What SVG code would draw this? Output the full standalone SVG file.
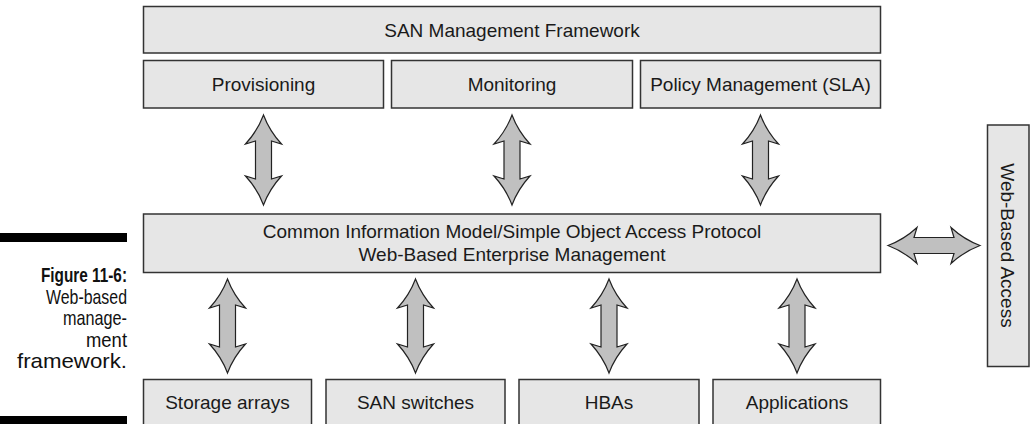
<svg xmlns="http://www.w3.org/2000/svg" xmlns:xlink="http://www.w3.org/1999/xlink" width="1030" height="424" viewBox="0 0 1030 424">
<style>
.box{fill:#e6e6e6;stroke:#333;stroke-width:1.5}
.lbl{font-family:"Liberation Sans",Arial,sans-serif;font-size:19px;fill:#1a1a1a;text-anchor:middle}
.arr{fill:#c0c0c0;stroke:#222;stroke-width:1.2;stroke-linejoin:miter}
.cap{font-family:"Liberation Sans",Arial,sans-serif;font-size:21px;fill:#111;text-anchor:end}
</style>
<defs>
<path id="v90" d="M0,0 Q-6,16 -18,29 L-8,26 L-8,64 L-18,61 Q-6,74 0,90 Q6,74 18,61 L8,64 L8,26 L18,29 Q6,16 0,0 Z"/>
<path id="v94" d="M0,0 Q-6,16 -18,29 L-8,26 L-8,68 L-18,65 Q-6,78 0,94 Q6,78 18,65 L8,68 L8,26 L18,29 Q6,16 0,0 Z"/>
<path id="v92" d="M0,0 Q-6,16 -18,29 L-8,26 L-8,66 L-18,63 Q-6,76 0,92 Q6,76 18,63 L8,66 L8,26 L18,29 Q6,16 0,0 Z"/>
</defs>
<rect width="1030" height="424" fill="#fff"/>

<g id="caption">
<rect x="0" y="233" width="127" height="9" fill="#000"/>
<rect x="0" y="416" width="127" height="10" fill="#000"/>
<text class="cap" x="127" y="282" font-weight="bold" textLength="86" lengthAdjust="spacingAndGlyphs">Figure 11-6:</text>
<text class="cap" x="127" y="303.5" textLength="81" lengthAdjust="spacingAndGlyphs">Web-based</text>
<text class="cap" x="127" y="325" textLength="64" lengthAdjust="spacingAndGlyphs">manage-</text>
<text class="cap" x="127" y="346.5" textLength="41" lengthAdjust="spacingAndGlyphs">ment</text>
<text class="cap" x="127" y="368" textLength="110" lengthAdjust="spacingAndGlyphs">framework.</text>
</g>

<g id="san-framework">
<rect class="box" x="143.5" y="6.5" width="737" height="46.5"/>
<text class="lbl" x="512" y="37">SAN Management Framework</text>
</g>
<g id="provisioning">
<rect class="box" x="143.5" y="60.5" width="240" height="47.5"/>
<text class="lbl" x="263.5" y="91">Provisioning</text>
</g>
<g id="monitoring">
<rect class="box" x="391.5" y="60.5" width="241" height="47.5"/>
<text class="lbl" x="512" y="91">Monitoring</text>
</g>
<g id="policy">
<rect class="box" x="640.5" y="60.5" width="240" height="47.5"/>
<text class="lbl" x="760.5" y="91">Policy Management (SLA)</text>
</g>
<g id="cim-wbem">
<rect class="box" x="143.5" y="214" width="737" height="58.5"/>
<text class="lbl" x="512" y="238">Common Information Model/Simple Object Access Protocol</text>
<text class="lbl" x="512" y="261">Web-Based Enterprise Management</text>
</g>
<g id="storage-arrays">
<rect class="box" x="143.5" y="379.5" width="168" height="52"/>
<text class="lbl" x="227.5" y="409">Storage arrays</text>
</g>
<g id="san-switches">
<rect class="box" x="326" y="379.5" width="179" height="52"/>
<text class="lbl" x="415.5" y="409">SAN switches</text>
</g>
<g id="hbas">
<rect class="box" x="519" y="379.5" width="180" height="52"/>
<text class="lbl" x="609" y="409">HBAs</text>
</g>
<g id="applications">
<rect class="box" x="713" y="379.5" width="167.5" height="52"/>
<text class="lbl" x="797" y="409">Applications</text>
</g>
<g id="web-access">
<rect class="box" x="987.5" y="125" width="41.5" height="241.5"/>
<text class="lbl" transform="translate(1008,245.5) rotate(90)" x="0" y="6.8">Web-Based Access</text>
</g>

<g id="connectors">
<use xlink:href="#v90" class="arr" x="263.5" y="115"/>
<use xlink:href="#v90" class="arr" x="512" y="115"/>
<use xlink:href="#v90" class="arr" x="760.5" y="115"/>
<use xlink:href="#v94" class="arr" x="227.5" y="279"/>
<use xlink:href="#v94" class="arr" x="415.5" y="279"/>
<use xlink:href="#v94" class="arr" x="609" y="279"/>
<use xlink:href="#v94" class="arr" x="797" y="279"/>
<use xlink:href="#v92" class="arr" transform="translate(980,245.5) rotate(90)"/>
</g>
</svg>
